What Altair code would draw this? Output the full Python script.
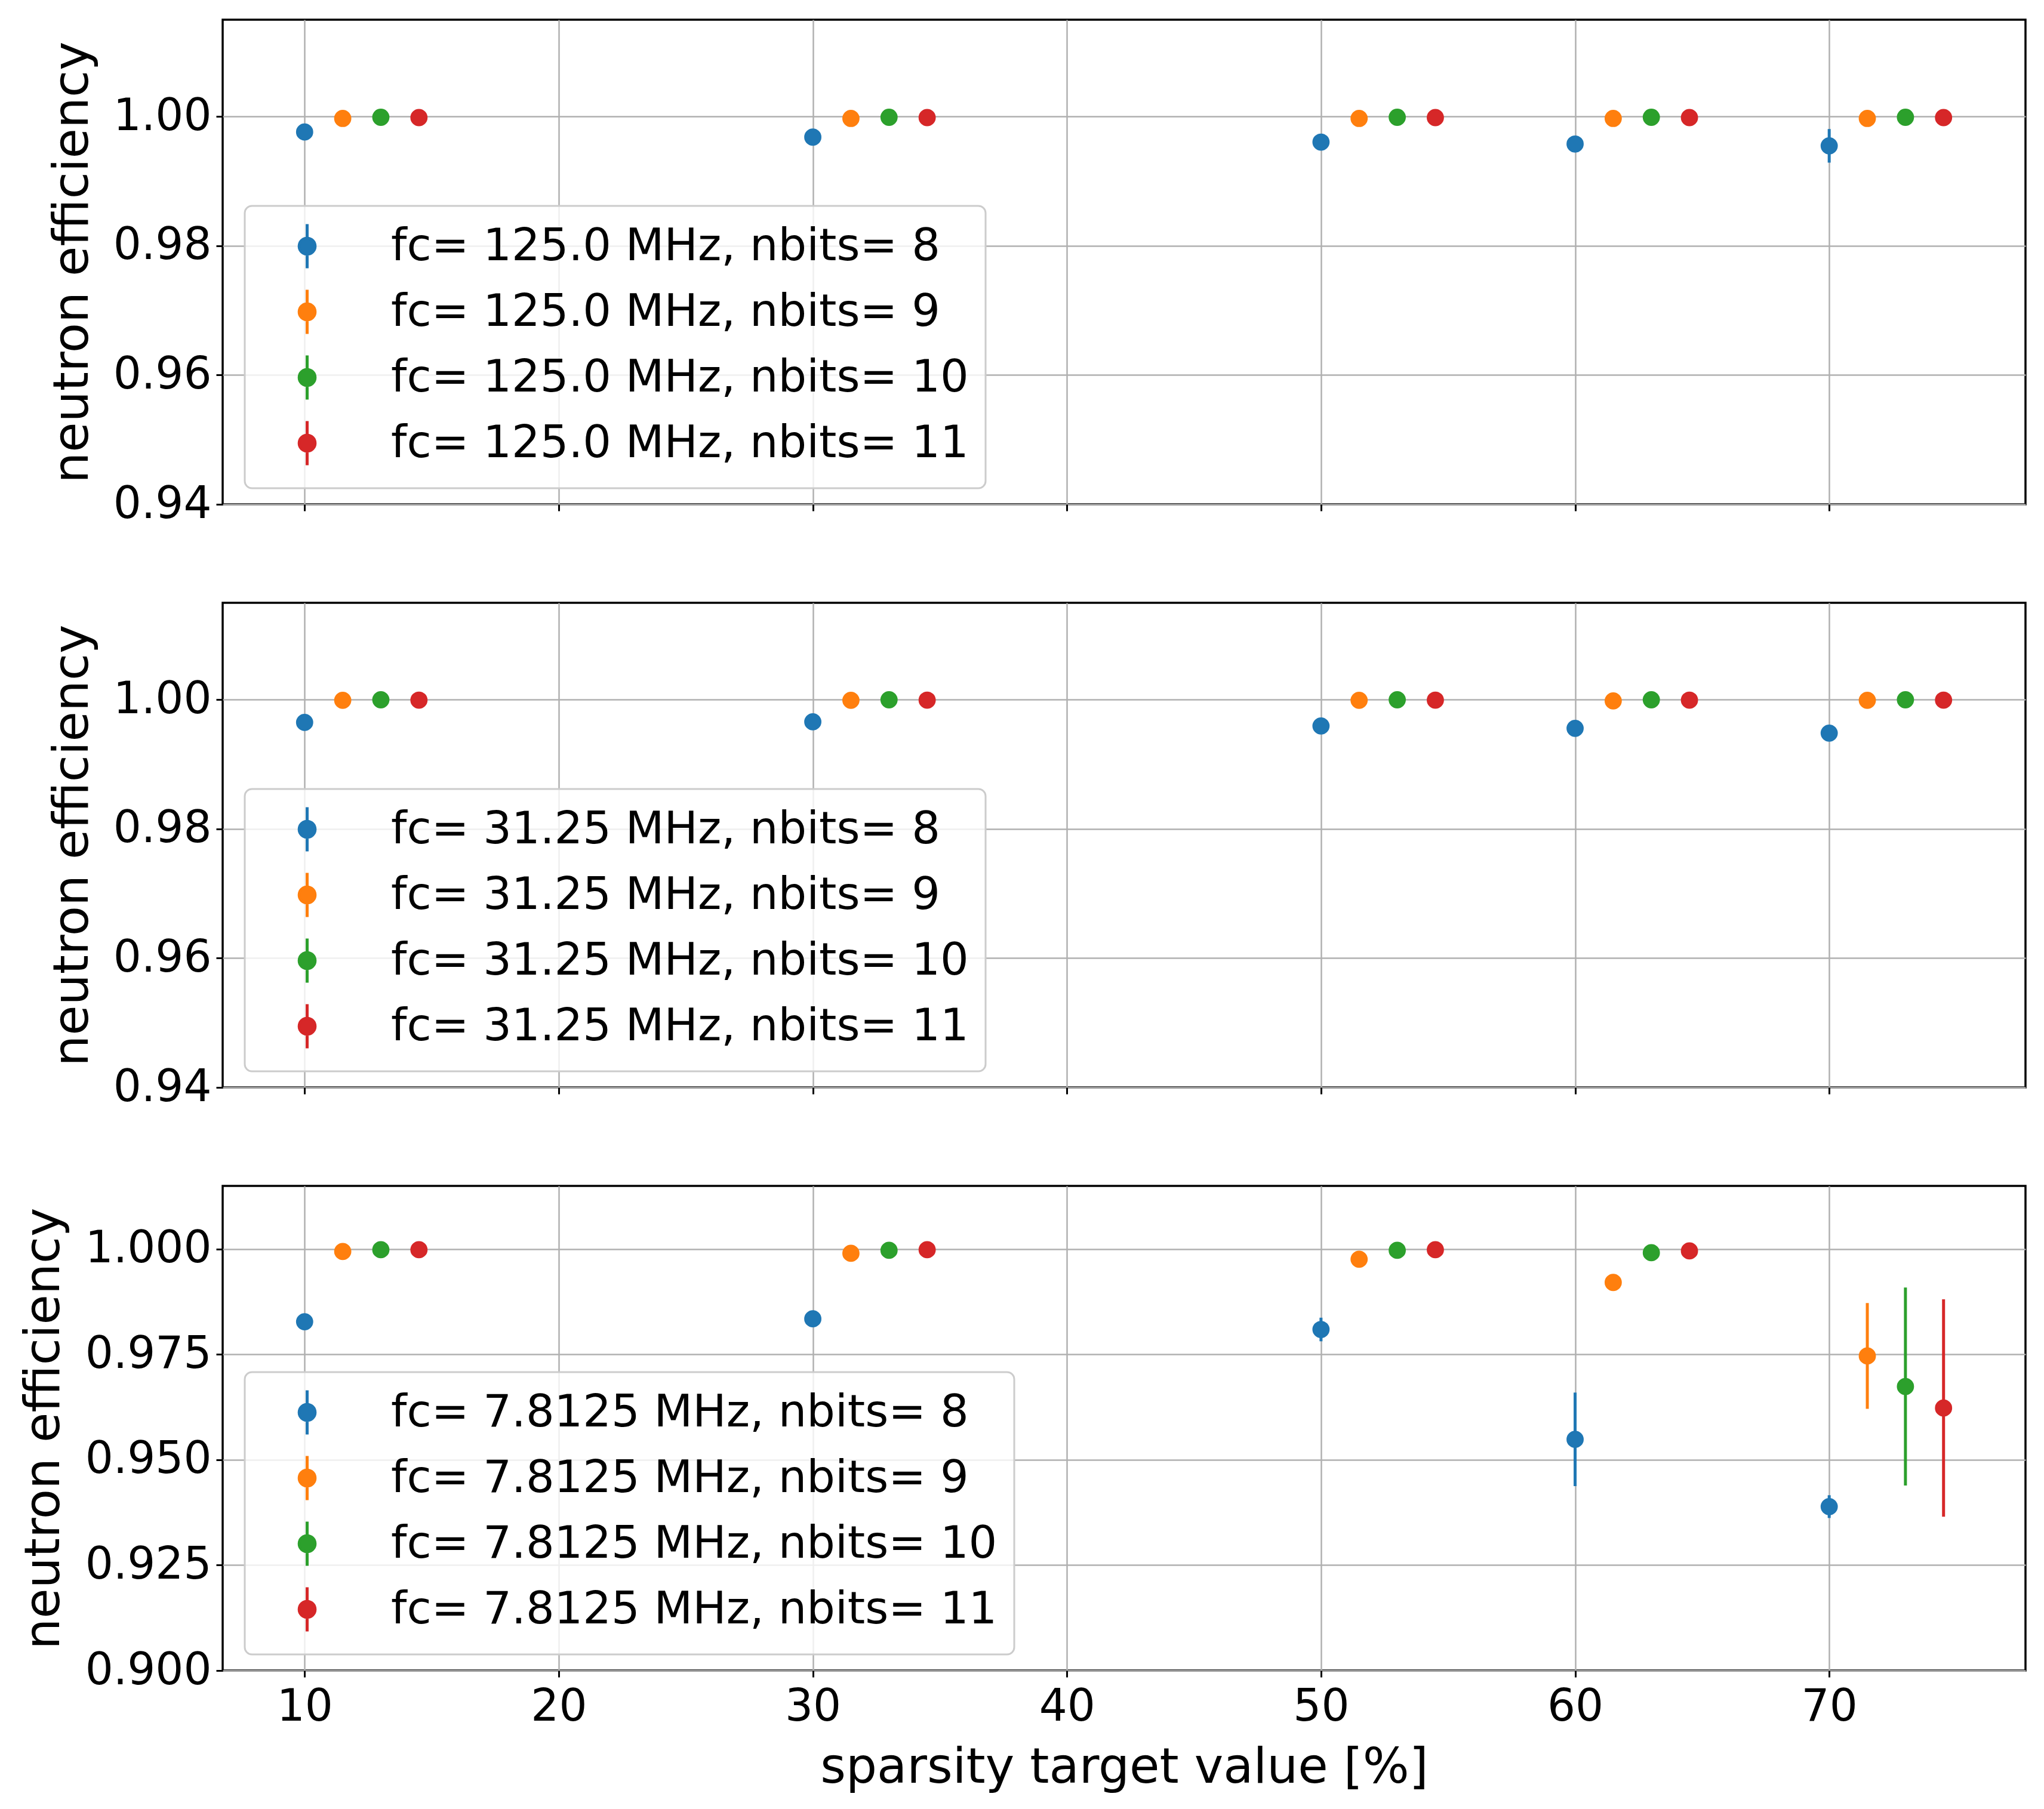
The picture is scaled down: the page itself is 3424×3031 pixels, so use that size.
import altair as alt
import pandas as pd

# ---------------- data ----------------
sparsity = [10, 30, 50, 60, 70]
nbits_list = [8, 9, 10, 11]
fc_list = ["125.0", "31.25", "7.8125"]
colors = ["#1f77b4", "#ff7f0e", "#2ca02c", "#d62728"]

# fc = 125.0 MHz
eff_125_nb8 = [0.99762, 0.99683, 0.99606, 0.99576, 0.99548]
eff_125_nb9 = [0.99972, 0.99972, 0.99972, 0.99972, 0.99972]
eff_125_nb10 = [0.99990, 0.99990, 0.99990, 0.99990, 0.99990]
eff_125_nb11 = [0.99985, 0.99985, 0.99985, 0.99985, 0.99985]
err_125_nb8 = [0.0004, 0.0004, 0.0005, 0.0005, 0.0026]
err_125_nb9 = [0.0001, 0.0001, 0.0001, 0.0001, 0.0001]
err_125_nb10 = [0.0001, 0.0001, 0.0001, 0.0001, 0.0001]
err_125_nb11 = [0.0001, 0.0001, 0.0001, 0.0001, 0.0001]

# fc = 31.25 MHz
eff_31_nb8 = [0.99649, 0.99658, 0.99594, 0.99557, 0.99483]
eff_31_nb9 = [0.99991, 0.99991, 0.99991, 0.99982, 0.99991]
eff_31_nb10 = [0.99999, 0.99999, 0.99999, 0.99999, 0.99999]
eff_31_nb11 = [0.99994, 0.99994, 0.99994, 0.99994, 0.99994]
err_31_nb8 = [0.0005, 0.0005, 0.0005, 0.0005, 0.0006]
err_31_nb9 = [0.0001, 0.0001, 0.0001, 0.0001, 0.0001]
err_31_nb10 = [0.0001, 0.0001, 0.0001, 0.0001, 0.0001]
err_31_nb11 = [0.0001, 0.0001, 0.0001, 0.0001, 0.0001]

# fc = 7.8125 MHz
eff_7_nb8 = [0.98277, 0.98347, 0.98093, 0.95486, 0.93890]
eff_7_nb9 = [0.99944, 0.99901, 0.99760, 0.99209, 0.97465]
eff_7_nb10 = [0.99986, 0.99972, 0.99972, 0.99915, 0.96740]
eff_7_nb11 = [0.99986, 0.99986, 0.99986, 0.99958, 0.96229]
err_7_nb8 = [0.0008, 0.0009, 0.0028, 0.0111, 0.0027]
err_7_nb9 = [0.0002, 0.0003, 0.0006, 0.0012, 0.01255]
err_7_nb10 = [0.0001, 0.0001, 0.0002, 0.0003, 0.0235]
err_7_nb11 = [0.0001, 0.0001, 0.0001, 0.0002, 0.0258]

panels = [
    ("125.0", [eff_125_nb8, eff_125_nb9, eff_125_nb10, eff_125_nb11],
     [err_125_nb8, err_125_nb9, err_125_nb10, err_125_nb11]),
    ("31.25", [eff_31_nb8, eff_31_nb9, eff_31_nb10, eff_31_nb11],
     [err_31_nb8, err_31_nb9, err_31_nb10, err_31_nb11]),
    ("7.8125", [eff_7_nb8, eff_7_nb9, eff_7_nb10, eff_7_nb11],
     [err_7_nb8, err_7_nb9, err_7_nb10, err_7_nb11]),
]

# horizontal dodge between nbits series (style)
DODGE = [0.0, 1.5, 3.0, 4.5]

FONT = "DejaVu Sans"
LEGEND_SYMBOL = ("M0,-1V1M-0.36,0A0.36,0.36 0 1,0 0.36,0A0.36,0.36 0 1,0 -0.36,0Z")


def make_panel(fc, effs, errs, idx):
    rows = []
    labels = []
    for k, nb in enumerate(nbits_list):
        lab = f"fc= {fc} MHz, nbits= {nb}"
        labels.append(lab)
        for s, v, e in zip(sparsity, effs[k], errs[k]):
            rows.append({"x": s + DODGE[k], "y": v, "lo": v - e, "hi": v + e,
                         "series": lab})
    df = pd.DataFrame(rows)

    last = idx == 2
    if last:
        ydom = [0.9, 1.015]
        yvals = [0.9, 0.925, 0.95, 0.975, 1.0]
        yfmt = ".3f"
        title_x = -275
    else:
        ydom = [0.94, 1.015]
        yvals = [0.94, 0.96, 0.98, 1.0]
        yfmt = ".2f"
        title_x = -227

    xaxis = alt.Axis(values=[10, 20, 30, 40, 50, 60, 70], labels=last,
                     title="sparsity target value [%]" if last else None,
                     format="d", labelPadding=14, titlePadding=24)
    xscale = alt.Scale(domain=[6.775, 77.725], nice=False, zero=False)
    yaxis = alt.Axis(values=yvals, format=yfmt, title="neutron efficiency",
                     titleX=title_x, titleAngle=270,
                     titleBaseline="alphabetic")
    yscale = alt.Scale(domain=ydom, nice=False, zero=False)
    cscale = alt.Scale(domain=labels, range=colors)
    leg = alt.Legend(title=None, orient="none", legendX=37, legendY=312,
                     symbolType=LEGEND_SYMBOL, symbolSize=5476,
                     symbolStrokeWidth=5, symbolOffset=37, labelOffset=101,
                     labelFontSize=75, labelFont=FONT, labelColor="black",
                     rowPadding=15, padding=28, labelLimit=3000,
                     fillColor="rgba(255,255,255,0.8)",
                     strokeColor="#cccccc", cornerRadius=12)

    base = alt.Chart(df)
    rules = base.mark_rule(strokeWidth=5).encode(
        x=alt.X("x:Q", scale=xscale, axis=xaxis),
        y=alt.Y("lo:Q", scale=yscale, axis=yaxis),
        y2="hi:Q",
        stroke=alt.Stroke("series:N", scale=cscale, legend=leg),
    )
    pts = base.mark_circle(size=720, opacity=1).encode(
        x=alt.X("x:Q", scale=xscale, axis=xaxis),
        y=alt.Y("y:Q", scale=yscale, axis=yaxis),
        fill=alt.Fill("series:N", scale=cscale, legend=leg),
        stroke=alt.Stroke("series:N", scale=cscale, legend=leg),
    )
    return alt.layer(rules, pts).properties(width=3020, height=812)


charts = [make_panel(fc, e, r, i) for i, (fc, e, r) in enumerate(panels)]

chart = alt.vconcat(*charts, spacing=124).resolve_scale(
    fill="independent", stroke="independent"
).resolve_legend(
    fill="independent", stroke="independent"
).properties(
    padding={"left": 22, "top": 23, "right": 5, "bottom": 5}
).configure_view(
    stroke="black", strokeWidth=3.5
).configure_axis(
    domain=False, grid=True, gridColor="#b0b0b0", gridWidth=2.5,
    tickColor="black", tickWidth=3, tickSize=11,
    labelFont=FONT, titleFont=FONT, labelFontSize=74, titleFontSize=82,
    labelColor="black", titleColor="black", titleFontWeight="normal",
    labelPadding=8, titlePadding=20, labelLimit=1000
).configure_legend(
    strokeWidth=3
)

chart.save("out.html", embed_options={"renderer": "svg", "actions": False})
